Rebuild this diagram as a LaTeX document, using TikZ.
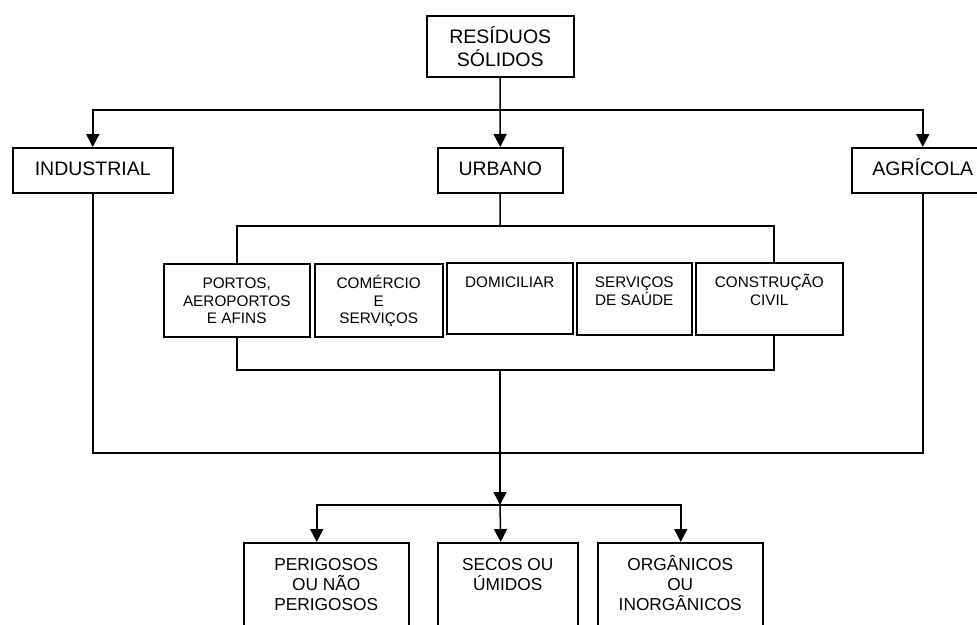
\documentclass[tikz,border=0pt]{standalone}
\usepackage{fontspec}
\setmainfont{Liberation Sans}
\usetikzlibrary{arrows.meta}

\tikzset{
    box/.style={draw, line width=1.5pt, inner sep=0pt, anchor=north west},
    ln/.style={line width=1.5pt},
    arr/.style={line width=1.5pt, -{Triangle[length=13pt,width=13pt]}},
}
% text box: width, height, first baseline, text
\newcommand{\boxtxt}[4]{\parbox[t][#2pt][t]{#1pt}{\centering\rule{0pt}{#3pt}#4}}
\newcommand{\bigtxt}{\fontsize{19.5}{23}\selectfont}
\newcommand{\smalltxt}{\fontsize{15.3}{17.5}\selectfont}
\newcommand{\midtxt}{\fontsize{17.3}{20}\selectfont}

\begin{document}
\begin{tikzpicture}[x=1pt, y=-1pt]
    \useasboundingbox (0,0) rectangle (977,624);
    \clip (0,0) rectangle (977,624);

    % top level
    \node[box] (residuos) at (426,15) {\bigtxt\boxtxt{147}{61}{28}{RESÍDUOS\\SÓLIDOS}};

    \node[box] (industrial) at (12,147) {\bigtxt\boxtxt{160}{45}{28}{INDUSTRIAL}};
    \node[box] (urbano) at (437,147) {\bigtxt\boxtxt{125}{45}{28}{URBANO}};
    \node[box] (agricola) at (851,147) {\bigtxt\boxtxt{142}{45}{28}{AGRÍCOLA}};

    % urban sources
    \node[box] (portos) at (163,263) {\smalltxt\boxtxt{146}{73}{25}{PORTOS,\\AEROPORTOS\\E AFINS}};
    \node[box] (comercio) at (314,263) {\smalltxt\boxtxt{128}{73}{25}{COMÉRCIO\\E\\SERVIÇOS}};
    \node[box] (domiciliar) at (446,262) {\smalltxt\boxtxt{126}{71}{25}{DOMICILIAR}};
    \node[box] (saude) at (576,262) {\smalltxt\boxtxt{115}{72}{25}{SERVIÇOS\\DE SAÚDE}};
    \node[box] (construcao) at (695,262) {\smalltxt\boxtxt{147}{72}{25}{CONSTRUÇÃO\\CIVIL}};

    % classes
    \node[box] (perigosos) at (243,542) {\midtxt\boxtxt{165}{110}{28}{PERIGOSOS\\OU NÃO\\PERIGOSOS}};
    \node[box] (secos) at (437,542) {\midtxt\boxtxt{140}{110}{28}{SECOS OU\\ÚMIDOS}};
    \node[box] (organicos) at (597,542) {\midtxt\boxtxt{165}{110}{28}{ORGÂNICOS\\OU\\INORGÂNICOS}};

    \coordinate (split1) at (500,110);
    \coordinate (split2) at (500,226);
    \coordinate (join2) at (500,370);
    \coordinate (join3) at (500,453);
    \coordinate (split3) at (500,505);

    \draw[ln] (residuos.south) -- (split1);
    \draw[arr] (split1) -| (industrial.north);
    \draw[arr] (split1) -- (urbano.north);
    \draw[arr] (split1) -| (agricola.north);

    \draw[ln] (urbano.south) -- (split2);
    \draw[ln] (split2) -| (portos.north);
    \draw[ln] (split2) -| ([xshift=4.5pt]construcao.north);

    \draw[ln] (portos.south) |- (join2);
    \draw[ln] (join2) -| ([xshift=4.5pt]construcao.south);
    \draw[ln] (industrial.south) |- (join3);
    \draw[ln] (join3) -| (agricola.south);
    \draw[arr] (join2) -- (split3);

    \draw[arr] (split3) -| ([xshift=-9.5pt]perigosos.north);
    \draw[arr] (split3) -- ([xshift=-7pt]secos.north);
    \draw[arr] (split3) -| ([xshift=0.5pt]organicos.north);
\end{tikzpicture}
\end{document}
